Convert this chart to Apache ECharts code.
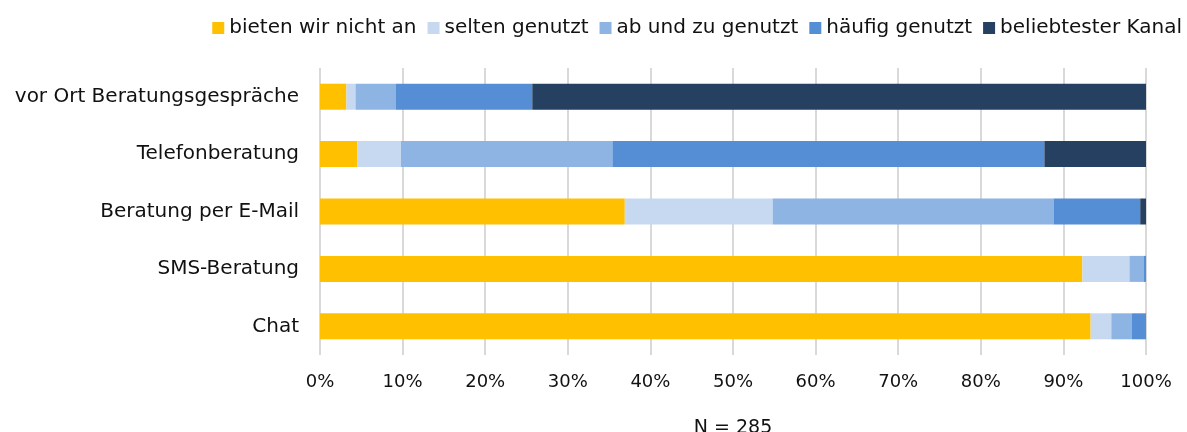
<!DOCTYPE html>
<html>
<head>
<meta charset="utf-8">
<script src="https://cdn.jsdelivr.net/npm/echarts@6/dist/echarts.min.js"></script>
<style>
  html, body { margin: 0; padding: 0; background: #fff; }
  #chart { width: 1187px; height: 432px; }
</style>
</head>
<body>
<div id="chart"></div>
<script>
// Kategorien von oben nach unten
var categories = ['vor Ort Beratungsgespräche', 'Telefonberatung', 'Beratung per E-Mail', 'SMS-Beratung', 'Chat']
var seriesNames = ['bieten wir nicht an', 'selten genutzt', 'ab und zu genutzt', 'häufig genutzt', 'beliebtester Kanal']

// Anteile in %, gleiche Reihenfolge wie categories
var nichtAn = [3.2, 4.5, 36.9, 92.3, 93.3]
var selten = [1.1, 5.3, 17.9, 5.7, 2.5]
var abUndZu = [4.9, 25.6, 34.0, 1.7, 2.5]
var haeufig = [16.5, 52.3, 10.5, 0.3, 1.7]
var beliebt = [74.3, 12.3, 0.7, 0, 0]

var xTicks = [0, 10, 20, 30, 40, 50, 60, 70, 80, 90, 100]

var colors = ['#FFC000', '#C6D9F1', '#8EB4E3', '#558ED5', '#254061']
var font = 'DejaVu Sans'

var chart = echarts.init(document.getElementById('chart'))

function makeSeries(name, data) {
  return {
    name: name,
    type: 'bar',
    stack: 'total',
    barWidth: 26,
    data: data
  }
}

chart.setOption({
  color: colors,
  animation: false,
  textStyle: { fontFamily: font },
  legend: {
    top: 13,
    right: 0,
    icon: 'rect',
    itemWidth: 12,
    itemHeight: 12,
    itemGap: 11,
    textStyle: { fontSize: 20, color: '#111', padding: [0, 0, 0, 0] },
    data: seriesNames
  },
  grid: {
    left: 320,
    right: 41,
    top: 68,
    bottom: 77,
    containLabel: false,
    outerBoundsMode: 'none'
  },
  xAxis: {
    type: 'value',
    min: 0,
    max: 100,
    interval: 10,
    axisLine: { show: false },
    axisTick: { show: false },
    splitLine: { show: true, lineStyle: { color: '#d9d9d9', width: 2 } },
    axisLabel: {
      fontSize: 18,
      color: '#111',
      margin: 18,
      formatter: function (v) { return xTicks.indexOf(v) >= 0 ? v + '%' : '' }
    },
    name: 'N = 285',
    nameLocation: 'middle',
    nameGap: 64,
    nameTextStyle: { fontSize: 19, color: '#111' }
  },
  yAxis: {
    type: 'category',
    inverse: true,
    data: categories,
    axisLine: { show: false },
    axisTick: { show: false },
    axisLabel: { fontSize: 20, color: '#111', margin: 21 }
  },
  series: [
    makeSeries(seriesNames[0], nichtAn),
    makeSeries(seriesNames[1], selten),
    makeSeries(seriesNames[2], abUndZu),
    makeSeries(seriesNames[3], haeufig),
    makeSeries(seriesNames[4], beliebt)
  ]
})
</script>
</body>
</html>
